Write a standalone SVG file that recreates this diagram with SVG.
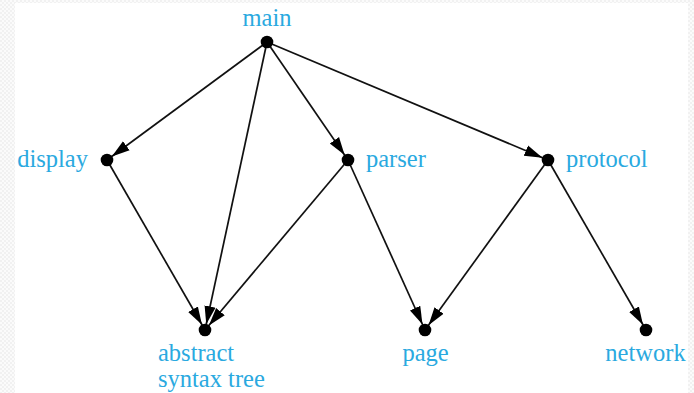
<svg xmlns="http://www.w3.org/2000/svg" width="694" height="393" viewBox="0 0 694 393">
  <defs>
    <style>
      .edge { stroke: #111; stroke-width: 1.7; fill: none; marker-end: url(#arrow); }
      .dot { fill: #000; }
      .lbl { font-family: "Liberation Serif", "Times New Roman", serif; font-size: 24.5px; fill: #2aa9e0; }
    </style>
    <marker id="arrow" markerUnits="userSpaceOnUse" markerWidth="30" markerHeight="14" viewBox="0 0 30 14" refX="24" refY="7" orient="auto">
      <path d="M0,1.4 L18,7 L0,12.6 Z" fill="#000"/>
    </marker>
    <pattern id="dots" width="4" height="4" patternUnits="userSpaceOnUse">
      <rect width="4" height="4" fill="#fbfbfb"/>
      <rect width="2" height="2" fill="#f1f1f1"/>
      <rect x="2" y="2" width="2" height="2" fill="#f1f1f1"/>
    </pattern>
  </defs>
  <rect width="694" height="393" fill="#ffffff"/>
  <rect x="0" y="0" width="15" height="393" fill="url(#dots)"/>
  <rect x="688" y="0" width="6" height="393" fill="url(#dots)"/>
  <rect x="0" y="0" width="694" height="3" fill="url(#dots)"/>

  <g id="connectors">
    <line class="edge" x1="267" y1="42" x2="107" y2="160"/>
    <line class="edge" x1="267" y1="42" x2="205" y2="330"/>
    <line class="edge" x1="267" y1="42" x2="348" y2="160"/>
    <line class="edge" x1="267" y1="42" x2="548" y2="160"/>
    <line class="edge" x1="107" y1="160" x2="205" y2="330"/>
    <line class="edge" x1="348" y1="160" x2="205" y2="330"/>
    <line class="edge" x1="348" y1="160" x2="425" y2="330"/>
    <line class="edge" x1="548" y1="160" x2="425" y2="330"/>
    <line class="edge" x1="548" y1="160" x2="646" y2="330"/>
  </g>

  <g id="main">
    <circle class="dot" cx="267" cy="42" r="6.3"/>
    <text class="lbl" x="267" y="26" text-anchor="middle">main</text>
  </g>
  <g id="display">
    <circle class="dot" cx="107" cy="160" r="6.3"/>
    <text class="lbl" x="88" y="167" text-anchor="end">display</text>
  </g>
  <g id="parser">
    <circle class="dot" cx="348" cy="160" r="6.3"/>
    <text class="lbl" x="366" y="167">parser</text>
  </g>
  <g id="protocol">
    <circle class="dot" cx="548" cy="160" r="6.3"/>
    <text class="lbl" x="566" y="167">protocol</text>
  </g>
  <g id="abstract-syntax-tree">
    <circle class="dot" cx="205" cy="330" r="6.3"/>
    <text class="lbl" x="158" y="361">abstract</text>
    <text class="lbl" x="158" y="387">syntax tree</text>
  </g>
  <g id="page">
    <circle class="dot" cx="425" cy="330" r="6.3"/>
    <text class="lbl" x="425.5" y="361" text-anchor="middle">page</text>
  </g>
  <g id="network">
    <circle class="dot" cx="646" cy="330" r="6.3"/>
    <text class="lbl" x="645.5" y="361" text-anchor="middle">network</text>
  </g>
</svg>
